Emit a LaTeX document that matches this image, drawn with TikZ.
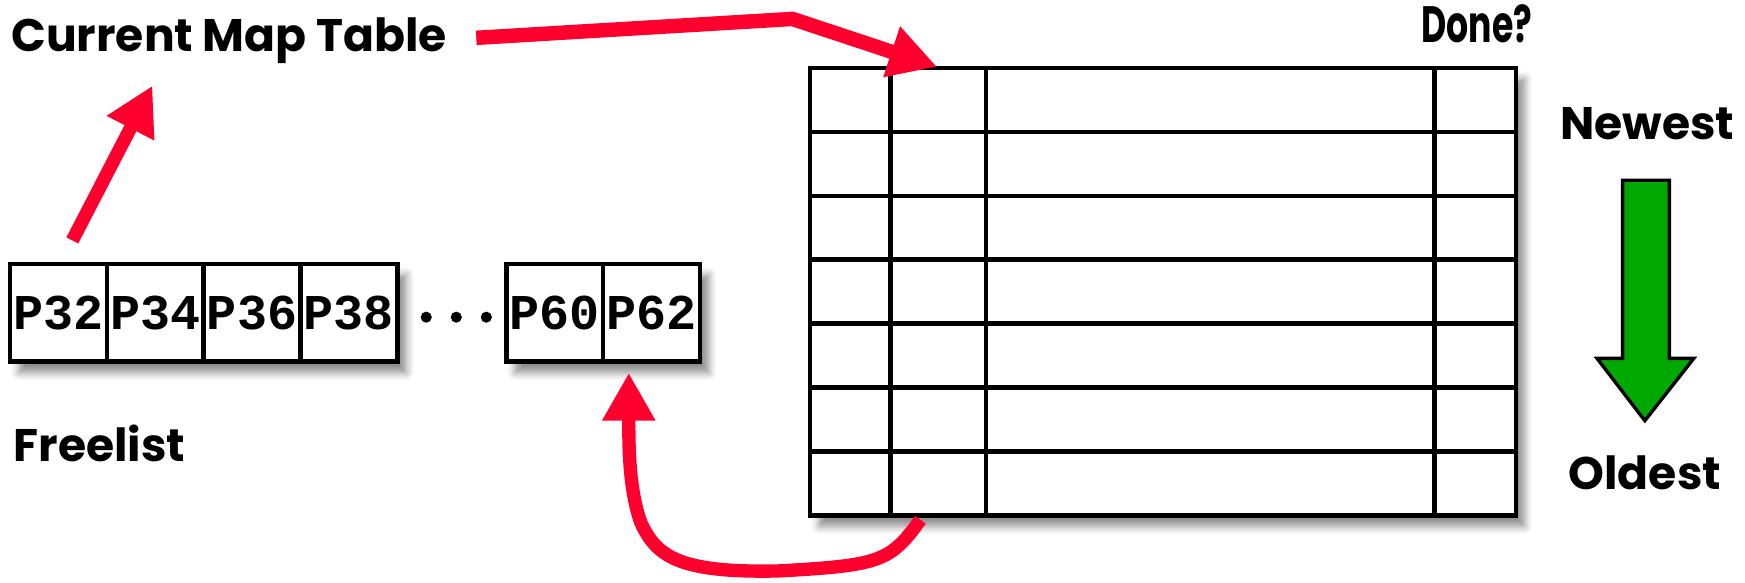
\documentclass[tikz,border=0pt]{standalone}
\usepackage{fontspec}
\usepackage{graphicx}
\setmainfont{Poppins}
\newfontfamily\cellfamily{Liberation Mono}
\usetikzlibrary{arrows.meta,shadows.blur}

\definecolor{arrowred}{RGB}{255,0,46}
\definecolor{ordergreen}{RGB}{0,168,0}

\pgfdeclarelayer{bg}
\pgfsetlayers{bg,main}

\tikzset{
  cell/.style={draw, line width=4pt, fill=white, minimum width=87pt,
    minimum height=88pt, inner sep=0pt, outer sep=0pt,
    font=\cellfamily\bfseries\fontsize{45}{45}\selectfont},
  lbl/.style={inner sep=0pt, font=\bfseries\fontsize{41}{46}\selectfont},
  tablerule/.style={line width=4pt},
  softshadow/.style={fill=white, blur shadow={shadow xshift=8pt,
    shadow yshift=-10pt, shadow blur radius=7pt, shadow opacity=45}},
  redarrow/.style={draw=arrowred, line width=12pt,
    -{Triangle[length=43pt,width=45pt]}},
}

\begin{document}
\begin{tikzpicture}[x=1pt,y=-1pt]
\useasboundingbox (0,0) rectangle (1568,523);

% labels
\node[lbl, anchor=base west] (cmt) at (10,46) {Current Map Table};
\node[lbl, anchor=base] (done) at (1327,38) {\scalebox{0.76}[1.12]{Done?}};
\node[lbl, anchor=base] (newest) at (1480,125) {Newest};
\node[lbl, anchor=base] (oldest) at (1478,440) {Oldest};
\node[lbl, anchor=base west] (freelist) at (12,415) {Freelist};

% free list of physical registers
\node[cell] (p32) at (52.5,281) {P32};
\node[cell, anchor=west] (p34) at (p32.east) {P34};
\node[cell, anchor=west] (p36) at (p34.east) {P36};
\node[cell, anchor=west] (p38) at (p36.east) {P38};
\node[cell] (p60) at (498.5,281) {P60};
\node[cell, anchor=west] (p62) at (p60.east) {P62};
\foreach \x in {383,410,437} \fill (\x,285) circle (5pt);

% reorder buffer
\node[draw, line width=4pt, minimum width=634pt, minimum height=402pt,
  outer sep=0pt, anchor=north west] (rob) at (728,61) {};
\foreach \x in {800,886,1289} \draw[tablerule] (\x,61) -- (\x,463);
\foreach \y in {118.4,175.9,233.3,290.7,348.1,405.6}
  \draw[tablerule] (728,\y) -- (1362,\y);

\begin{pgfonlayer}{bg}
  \path[softshadow] (p32.north west) rectangle (p38.south east);
  \path[softshadow] (p60.north west) rectangle (p62.south east);
  \path[softshadow] (rob.north west) rectangle (rob.south east);
\end{pgfonlayer}

% age direction
\draw[line width=3pt, fill=ordergreen, line join=miter]
  (1458,162) -- (1500,162) -- (1500,322) -- (1522,322) -- (1478,378)
  -- (1435,322) -- (1458,322) -- cycle;

% connectors
\coordinate (a1from) at (65,216);
\coordinate (a1to) at (137,77);
\draw[redarrow] (a1from) -- (a1to);

\coordinate (a2from) at (428,34);
\coordinate (a2bend) at (712,17);
\coordinate (a2to) at (842,60);
\draw[redarrow, line width=13pt] (a2from) -- (a2bend) -- (a2to);

\coordinate (a3from) at (827,467);
\coordinate (a3to) at (565,335);
\draw[redarrow] (a3from) .. controls (800,505) and (790,508) .. (700,513)
  .. controls (610,515) and (590,500) .. (576,470)
  .. controls (565,440) and (565,400) .. (a3to);
\end{tikzpicture}
\end{document}
